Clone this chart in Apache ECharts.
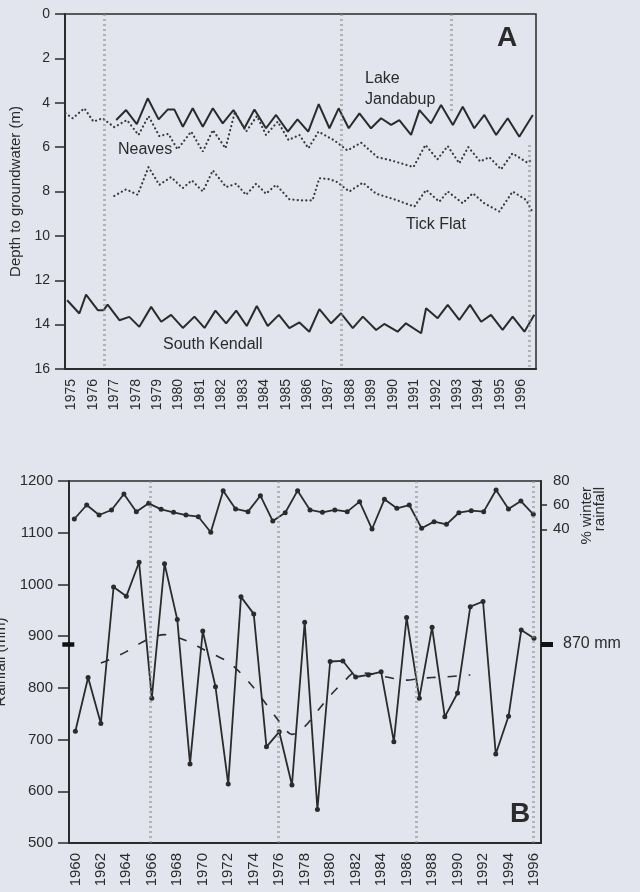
<!DOCTYPE html>
<html><head><meta charset="utf-8">
<script src="https://cdn.jsdelivr.net/npm/echarts@6/dist/echarts.min.js"></script>
<style>html,body{margin:0;padding:0;background:#e2e5ee}#c{width:640px;height:892px}</style>
</head><body><div id="c"></div>
<script>
// ---------- Panel A : depth to groundwater (m) ----------
const yearTicksA = [1975,1976,1977,1978,1979,1980,1981,1982,1983,1984,1985,1986,1987,1988,1989,1990,1991,1992,1993,1994,1995,1996];
const lakeJandabup = [[1977.09,4.78],[1977.55,4.33],[1978.05,4.96],[1978.56,3.80],[1979.07,4.75],[1979.5,4.30],[1979.8,4.30],[1980.2,5.08],[1980.66,4.25],[1981.13,5.08],[1981.6,4.25],[1982.06,4.93],[1982.56,4.33],[1983.07,5.15],[1983.54,4.30],[1984.08,5.15],[1984.55,4.55],[1985.1,5.3],[1985.55,4.75],[1986.05,5.3],[1986.54,4.06],[1987.04,5.15],[1987.47,4.25],[1987.94,5.15],[1988.44,4.48],[1988.98,5.15],[1989.45,4.7],[1989.92,5.0],[1990.3,4.78],[1990.85,5.45],[1991.24,4.33],[1991.78,4.93],[1992.25,4.1],[1992.8,5.0],[1993.26,4.18],[1993.8,5.15],[1994.27,4.55],[1994.82,5.45],[1995.36,4.7],[1995.9,5.53],[1996.53,4.55]];
const neaves = [[1974.72,4.47],[1975.06,4.7],[1975.6,4.25],[1976.03,4.85],[1976.45,4.7],[1977.0,5.1],[1977.59,4.78],[1978.13,5.45],[1978.6,4.6],[1979.1,5.5],[1979.53,5.4],[1979.95,6.1],[1980.59,5.3],[1981.13,6.2],[1981.6,5.23],[1982.19,6.05],[1982.63,4.4],[1983.15,5.3],[1983.66,4.6],[1984.08,5.45],[1984.63,4.85],[1985.13,5.68],[1985.64,5.45],[1986.06,6.05],[1986.53,5.3],[1987.27,5.7],[1987.88,6.15],[1988.52,5.8],[1989.28,6.45],[1989.93,6.6],[1990.96,6.9],[1991.52,5.9],[1992.08,6.55],[1992.56,5.95],[1993.1,6.73],[1993.52,6.0],[1994.08,6.65],[1994.5,6.45],[1995.05,7.0],[1995.58,6.28],[1996.28,6.7],[1996.45,6.6]];
const tickFlat = [[1977.0,8.2],[1977.55,7.9],[1978.09,8.15],[1978.6,6.9],[1979.1,7.7],[1979.65,7.35],[1980.19,7.85],[1980.62,7.5],[1981.13,8.0],[1981.6,7.05],[1982.22,7.8],[1982.69,7.65],[1983.15,8.15],[1983.62,7.65],[1984.08,8.1],[1984.55,7.7],[1985.17,8.35],[1985.64,8.4],[1986.25,8.4],[1986.57,7.4],[1987.04,7.45],[1987.36,7.55],[1987.97,8.0],[1988.6,7.6],[1989.22,8.1],[1990.15,8.38],[1991.0,8.68],[1991.55,7.93],[1992.17,8.46],[1992.56,8.0],[1993.26,8.53],[1993.73,8.08],[1994.27,8.53],[1994.97,8.9],[1995.59,8.0],[1996.22,8.38],[1996.5,8.9]];
const southKendall = [[1974.8,12.9],[1975.37,13.5],[1975.68,12.65],[1976.23,13.35],[1976.5,13.35],[1976.69,13.1],[1977.24,13.8],[1977.7,13.65],[1978.17,14.1],[1978.72,13.2],[1979.19,13.87],[1979.65,13.56],[1980.2,14.15],[1980.74,13.64],[1981.21,14.15],[1981.72,13.37],[1982.22,13.94],[1982.69,13.37],[1983.18,14.06],[1983.65,13.16],[1984.16,14.06],[1984.68,13.56],[1985.17,14.16],[1985.64,13.9],[1986.1,14.32],[1986.57,13.3],[1987.12,13.94],[1987.58,13.49],[1988.13,14.16],[1988.6,13.64],[1989.22,14.24],[1989.6,13.97],[1990.22,14.32],[1990.61,13.94],[1991.32,14.39],[1991.55,13.26],[1992.09,13.71],[1992.56,13.11],[1993.1,13.79],[1993.6,13.11],[1994.12,13.87],[1994.58,13.56],[1995.12,14.24],[1995.59,13.64],[1996.14,14.32],[1996.6,13.56]];
const scanLinesA = [[1976.54,0,16],[1987.58,0,16],[1992.72,0,4.5],[1996.37,5.9,16]];

// ---------- Panel B : rainfall ----------
const yearTicksB = [1960,1962,1964,1966,1968,1970,1972,1974,1976,1978,1980,1982,1984,1986,1988,1990,1992,1994,1996];
const rainYears = [1960,1961,1962,1963,1964,1965,1966,1967,1968,1969,1970,1971,1972,1973,1974,1975,1976,1977,1978,1979,1980,1981,1982,1983,1984,1985,1986,1987,1988,1989,1990,1991,1992,1993,1994,1995,1996];
const rainfall = [716,820,731,995,977,1043,780,1040,932,653,910,802,614,976,943,686,715,612,927,565,851,852,821,825,831,696,936,780,917,744,790,957,967,672,745,912,896];
const avgYears = [1962,1963,1964,1965,1966,1967,1968,1969,1970,1971,1972,1973,1974,1975,1976,1977,1978,1979,1980,1981,1982,1983,1984,1985,1986,1987,1988,1989,1990,1991];
const movingAvg = [848,858,870,885,897,903,898,888,875,863,850,828,800,768,735,710,725,755,785,810,830,828,823,818,815,818,820,821,823,825];
const winterPct = [48.5,60.1,51.8,56,69.2,54.6,61.5,56.5,54,51.8,50.4,37.5,72,56.8,54.6,67.8,46.8,53.7,72,56,54,56,54.6,62.9,40.2,64.8,57.4,60.1,40.8,46.3,44.1,53.7,55.4,54.6,72.5,56.8,63.4,52.4];
const pctLabels = [40,60,80];
const pctTicks = [40,60];
const meanMarker = [885];
const meanLabel = '870 mm';
const scanLinesB = [[1965.87,500,1200],[1975.9,500,1200],[1986.78,500,1200],[1995.95,500,1200]];

const ink = '#2b2b2b';
const font = 'Liberation Sans, Arial, Helvetica, sans-serif';
const plain = v => String(v);
const chart = echarts.init(document.getElementById('c'));

function scanMark(lines){
  return {
    silent: true, symbol: ['none','none'], label: {show:false},
    lineStyle: {color:'#8a8a8a', type:[2,3], width:3, opacity:0.55},
    emphasis: {disabled:true},
    data: lines.map(l => [{coord:[l[0], l[1]]},{coord:[l[0], l[2]]}])
  };
}
const dotted = {color:'#3a3a3a', width:2.2, type:[0.1,4.2], cap:'round'};

const option = {
  backgroundColor: '#e2e5ee',
  animation: false,
  textStyle: {fontFamily: font, color: ink},
  grid: [
    {left:65, top:14, width:471, height:355, show:true, borderColor:ink, borderWidth:1.5, backgroundColor:'transparent', containLabel:false, outerBoundsMode:'none'},
    {left:69, top:481, width:472, height:362, show:true, borderColor:ink, borderWidth:1.5, backgroundColor:'transparent', containLabel:false, outerBoundsMode:'none'}
  ],
  xAxis: [
    {gridIndex:0, type:'value', min:1974.7, max:1996.68,
     axisLine:{show:true, onZero:false, lineStyle:{color:ink, width:2}},
     axisTick:{show:false}, splitLine:{show:false},
     axisLabel:{customValues:yearTicksA, formatter:plain, rotate:90, fontSize:14, margin:10, color:ink, fontFamily:font}},
    {gridIndex:1, type:'value', min:1959.5, max:1996.55,
     axisLine:{show:true, onZero:false, lineStyle:{color:ink, width:2}},
     axisTick:{show:false}, splitLine:{show:false},
     axisLabel:{customValues:yearTicksB, formatter:plain, rotate:90, fontSize:15, margin:10, color:ink, fontFamily:font}},
    {gridIndex:1, type:'value', min:-0.427, max:37.62, show:false}
  ],
  yAxis: [
    {gridIndex:0, type:'value', inverse:true, min:0, max:16, interval:2,
     axisLine:{show:true, onZero:false, lineStyle:{color:ink, width:2}},
     axisTick:{show:true, length:10, lineStyle:{color:ink, width:1.5}},
     splitLine:{show:false},
     axisLabel:{formatter:plain, fontSize:14, margin:15, color:ink, fontFamily:font},
     name:'Depth to groundwater (m)', nameLocation:'middle', nameGap:40, nameRotate:90,
     nameTextStyle:{fontSize:15, color:ink, fontFamily:font}},
    {gridIndex:1, type:'value', min:500, max:1200, interval:100,
     axisLine:{show:true, onZero:false, lineStyle:{color:ink, width:2}},
     axisTick:{show:true, length:11, lineStyle:{color:ink, width:1.5}},
     splitLine:{show:false},
     axisLabel:{formatter:plain, fontSize:15, margin:16, color:ink, fontFamily:font},
     name:'Rainfall (mm)', nameLocation:'middle', nameGap:55, nameRotate:90,
     nameTextStyle:{fontSize:15, color:ink, fontFamily:font}},
    {gridIndex:1, type:'value', position:'right', min:-220, max:80, interval:20,
     axisLine:{show:true, onZero:false, lineStyle:{color:ink, width:2}},
     axisTick:{show:true, length:6, customValues:pctTicks, lineStyle:{color:ink, width:1.5}},
     splitLine:{show:false},
     axisLabel:{customValues:pctLabels, formatter:plain, fontSize:15, margin:12, color:ink, fontFamily:font}},
    {gridIndex:1, type:'value', position:'left', min:500, max:1200,
     axisLine:{show:false}, splitLine:{show:false},
     axisTick:{show:true, length:12, customValues:meanMarker, lineStyle:{color:'#111', width:4.5}},
     axisLabel:{show:false}},
    {gridIndex:1, type:'value', position:'right', min:500, max:1200,
     axisLine:{show:false}, splitLine:{show:false},
     axisTick:{show:true, length:12, customValues:meanMarker, lineStyle:{color:'#111', width:5}},
     axisLabel:{customValues:meanMarker, formatter:()=>meanLabel, fontSize:16, margin:22, color:ink, fontFamily:font}}
  ],
  series: [
    {name:'Lake Jandabup', type:'line', xAxisIndex:0, yAxisIndex:0, data:lakeJandabup, symbol:'none',
     lineStyle:{color:ink, width:2}, markLine: scanMark(scanLinesA)},
    {name:'Neaves', type:'line', xAxisIndex:0, yAxisIndex:0, data:neaves, symbol:'none', lineStyle:dotted},
    {name:'Tick Flat', type:'line', xAxisIndex:0, yAxisIndex:0, data:tickFlat, symbol:'none', lineStyle:dotted},
    {name:'South Kendall', type:'line', xAxisIndex:0, yAxisIndex:0, data:southKendall, symbol:'none',
     lineStyle:{color:ink, width:2}},
    {name:'Rainfall', type:'line', xAxisIndex:1, yAxisIndex:1, data:rainYears.map((y,i)=>[y, rainfall[i]]),
     symbol:'circle', symbolSize:5, itemStyle:{color:ink}, lineStyle:{color:ink, width:1.8},
     markLine: scanMark(scanLinesB)},
    {name:'Moving average', type:'line', xAxisIndex:1, yAxisIndex:1, data:avgYears.map((y,i)=>[y, movingAvg[i]]),
     symbol:'none', smooth:0.3, lineStyle:{color:ink, width:1.6, type:[9,12]}},
    {name:'% winter rainfall', type:'line', xAxisIndex:2, yAxisIndex:2, data:winterPct.map((v,i)=>[i, v]),
     symbol:'circle', symbolSize:5, itemStyle:{color:ink}, lineStyle:{color:ink, width:1.8}}
  ],
  graphic: [
    {type:'text', x:365, y:79, silent:true, style:{text:'Lake', font:'16px '+font, fill:ink, verticalAlign:'middle'}},
    {type:'text', x:365, y:100, silent:true, style:{text:'Jandabup', font:'16px '+font, fill:ink, verticalAlign:'middle'}},
    {type:'text', x:118, y:150, silent:true, style:{text:'Neaves', font:'16px '+font, fill:ink, verticalAlign:'middle'}},
    {type:'text', x:406, y:225, silent:true, style:{text:'Tick Flat', font:'16px '+font, fill:ink, verticalAlign:'middle'}},
    {type:'text', x:163, y:345, silent:true, style:{text:'South Kendall', font:'16px '+font, fill:ink, verticalAlign:'middle'}},
    {type:'text', x:507, y:38, silent:true, style:{text:'A', font:'bold 28px '+font, fill:ink, align:'center', verticalAlign:'middle'}},
    {type:'text', x:520, y:814, silent:true, style:{text:'B', font:'bold 28px '+font, fill:ink, align:'center', verticalAlign:'middle'}},
    {type:'text', x:593, y:487, rotation:Math.PI/2, silent:true, style:{text:'% winter\nrainfall', font:'15px '+font, lineHeight:13, fill:ink, align:'right', verticalAlign:'middle'}}
  ]
};
chart.setOption(option);
</script>
</body></html>
